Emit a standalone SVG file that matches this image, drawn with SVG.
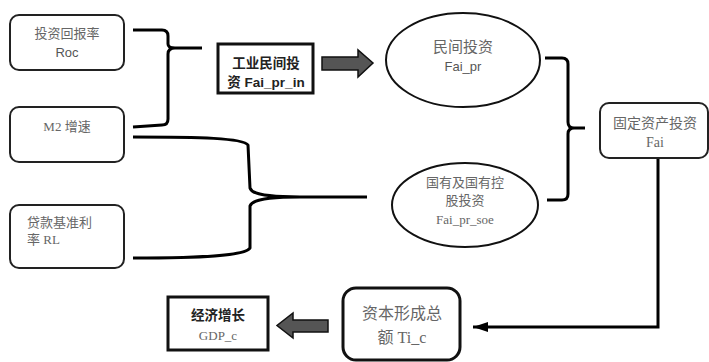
<svg xmlns="http://www.w3.org/2000/svg" width="709" height="362" viewBox="0 0 709 362">
<style>
.box{fill:#fff;stroke:#222;stroke-width:2}
.thick{fill:#fff;stroke:#111;stroke-width:3}
.ell{fill:#fff;stroke:#111;stroke-width:2}
.brace{fill:none;stroke:#000;stroke-width:3;stroke-linejoin:round}
.fat{fill:#555;stroke:#111;stroke-width:1.5}
.t{font-family:"Liberation Serif","Noto Sans CJK SC",serif;font-size:13px;fill:#666;text-anchor:middle}
.s{font-family:"Liberation Sans","Noto Sans CJK SC",sans-serif;font-size:13px;fill:#555;text-anchor:middle}
.b{font-family:"Liberation Sans","Noto Sans CJK SC",sans-serif;font-size:13.5px;font-weight:bold;fill:#222;text-anchor:middle}
</style>
<defs>
<marker id="ah" markerWidth="16" markerHeight="12" refX="15" refY="6" orient="auto" markerUnits="userSpaceOnUse">
<path d="M0,1 L15,6 L0,11 Z" fill="#000"/>
</marker>
</defs>
<g id="connectors">
<path class="brace" d="M133,30 L162,30 Q168,30 168,36 L168,44 Q168,48 175,48 L202,48 M175,48 Q168,48 168,54 L168,119 Q168,125 162,125 L133,127"/>
<path class="brace" d="M133,137 C200,137 243,138 248,145 L250,188 C252,195 270,197 300,197 L367,197 M300,197 C270,197 252,199 250,206 L250,248 C245,256 200,258 133,258"/>
<path class="brace" d="M545,58 L562,58 Q568,58 568,64 L568,122 Q568,128 574,128 L585,128 M574,128 Q568,128 568,134 L568,194 Q568,200 562,200 L547,200"/>
<path fill="none" stroke="#000" stroke-width="3" d="M658,158 L658,327 L473,327" marker-end="url(#ah)"/>
<path class="fat" d="M322,57 L358,57 L358,50 L373,63 L358,77 L358,70 L322,70 Z"/>
<path class="fat" d="M328,320 L293,320 L293,313 L277,325.5 L293,338 L293,332 L328,332 Z"/>
</g>
<g id="roc">
<rect class="box" x="10" y="15" width="114" height="55" rx="9"/>
<text class="t" x="67" y="38">投资回报率</text>
<text class="s" x="67" y="57">Roc</text>
</g>
<g id="m2">
<rect class="box" x="10" y="107" width="114" height="55" rx="9"/>
<text class="t" x="67" y="131">M2 增速</text>
</g>
<g id="rl">
<rect class="box" x="10" y="205" width="114" height="63" rx="9"/>
<text class="t" x="27" y="227" style="text-anchor:start">贷款基准利</text>
<text class="t" x="27" y="244" style="text-anchor:start">率 RL</text>
</g>
<g id="fai_pr_in">
<rect class="thick" x="218" y="44" width="95" height="49"/>
<text class="b" x="266" y="68">工业民间投</text>
<text class="b" x="266" y="87">资 Fai_pr_in</text>
</g>
<g id="fai_pr">
<ellipse class="ell" cx="463" cy="60" rx="77" ry="47"/>
<text class="t" x="463" y="52" style="font-size:15px">民间投资</text>
<text class="s" x="463" y="71">Fai_pr</text>
</g>
<g id="fai_pr_soe">
<ellipse class="ell" cx="465" cy="205" rx="73" ry="42"/>
<text class="t" x="465" y="187">国有及国有控</text>
<text class="t" x="465" y="205">股投资</text>
<text class="t" x="465" y="224">Fai_pr_soe</text>
</g>
<g id="fai">
<rect class="box" x="600" y="103" width="108" height="55" rx="9"/>
<text class="t" x="655" y="128" style="font-size:14px">固定资产投资</text>
<text class="t" x="655" y="147" style="font-size:14px">Fai</text>
</g>
<g id="ti_c">
<rect class="thick" x="343" y="288" width="117" height="72" rx="13"/>
<text class="t" x="402" y="319" style="font-size:16px">资本形成总</text>
<text class="t" x="402" y="343" style="font-size:16px">额 Ti_c</text>
</g>
<g id="gdp_c">
<rect class="thick" x="168" y="297" width="100" height="53"/>
<text class="b" x="218" y="320">经济增长</text>
<text class="t" x="218" y="340">GDP_c</text>
</g>
</svg>
